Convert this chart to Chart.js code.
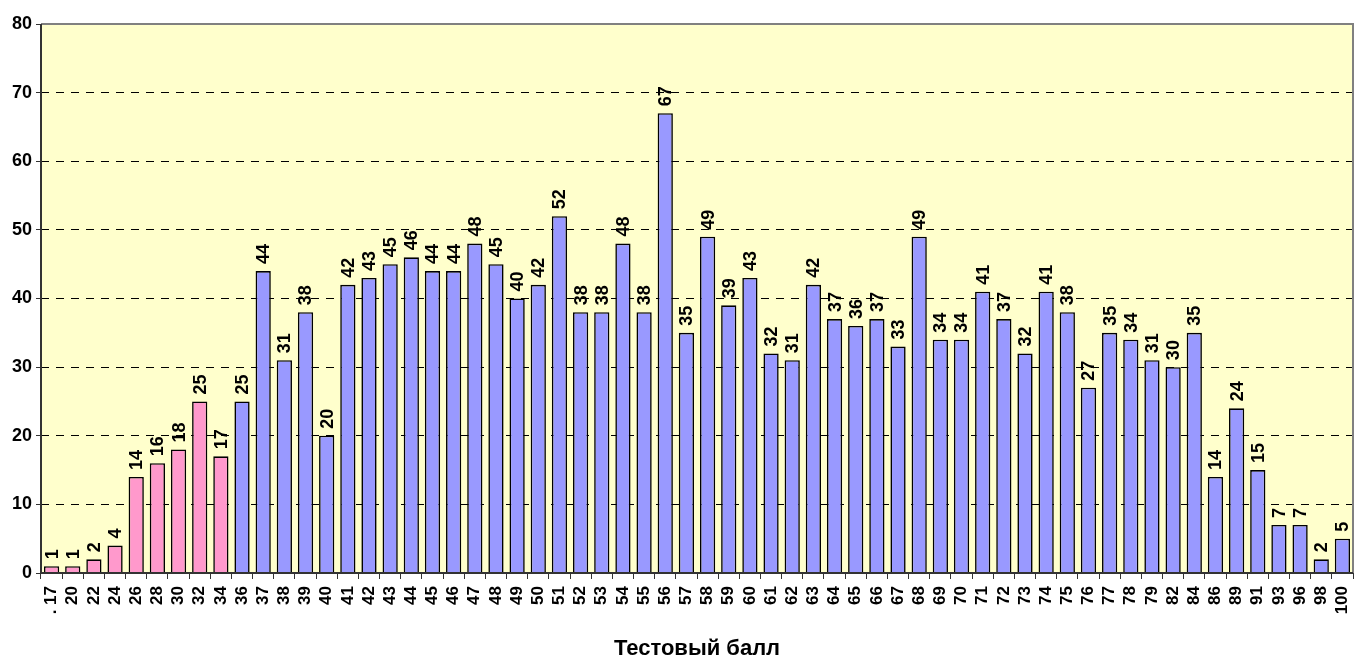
<!DOCTYPE html>
<html lang="ru">
<head>
  <meta charset="UTF-8">
  <title>Тестовый балл</title>
  <script src="https://cdn.jsdelivr.net/npm/chart.js"></script>
  <style>
    body { margin: 0; background: #fff; }
    #chart { display: block; }
  </style>
</head>
<body>
  <canvas id="chart" width="1356" height="664"></canvas>

  <script>
    // Тестовые баллы (категории)
    const scores = ['. 17', '20', '22', '24', '26', '28', '30', '32', '34', '36', '37', '38', '39', '40',
      '41', '42', '43', '44', '45', '46', '47', '48', '49', '50', '51', '52', '53', '54', '55', '56',
      '57', '58', '59', '60', '61', '62', '63', '64', '65', '66', '67', '68', '69', '70', '71', '72',
      '73', '74', '75', '76', '77', '78', '79', '82', '84', '86', '89', '91', '93', '96', '98', '100'];

    // Количество участников
    const counts = [1, 1, 2, 4, 14, 16, 18, 25, 17, 25, 44, 31, 38, 20,
      42, 43, 45, 46, 44, 44, 48, 45, 40, 42, 52, 38, 38, 48, 38, 67,
      35, 49, 39, 43, 32, 31, 42, 37, 36, 37, 33, 49, 34, 34, 41, 37,
      32, 41, 38, 27, 35, 34, 31, 30, 35, 14, 24, 15, 7, 7, 2, 5];

    // первые столбцы (ниже порога) — розовые
    const belowThreshold = 9;

    const yTicks = [0, 10, 20, 30, 40, 50, 60, 70, 80];

    const boldFont = "'Liberation Sans', Arial, sans-serif";

    // фон, рамка и подписи значений
    const plotDecor = {
      id: 'plotDecor',
      beforeDraw(chart) {
        const { ctx, chartArea: a } = chart;
        ctx.save();
        ctx.fillStyle = '#FFFFCC';
        ctx.fillRect(a.left, a.top, a.right - a.left, a.bottom - a.top);
        ctx.restore();
      },
      afterDatasetsDraw(chart) {
        const { ctx, chartArea: a } = chart;
        ctx.save();
        // рамка
        ctx.lineWidth = 2;
        ctx.strokeStyle = '#808080';
        ctx.beginPath();
        ctx.moveTo(a.left, a.top);
        ctx.lineTo(a.right, a.top);
        ctx.lineTo(a.right, a.bottom);
        ctx.stroke();
        ctx.strokeStyle = '#333';
        ctx.beginPath();
        ctx.moveTo(a.left, a.top);
        ctx.lineTo(a.left, a.bottom);
        ctx.lineTo(a.right, a.bottom);
        ctx.stroke();

        // подписи значений
        ctx.fillStyle = '#000';
        ctx.font = 'bold 18px ' + boldFont;
        ctx.textAlign = 'left';
        ctx.textBaseline = 'middle';
        const meta = chart.getDatasetMeta(0);
        meta.data.forEach((bar, i) => {
          ctx.save();
          ctx.translate(bar.x, bar.y - 7);
          ctx.rotate(-Math.PI / 2);
          ctx.fillText(String(counts[i]), 0, 1);
          ctx.restore();
        });
        ctx.restore();
      }
    };

    const ctx = document.getElementById('chart').getContext('2d');
    new Chart(ctx, {
      type: 'bar',
      data: {
        labels: scores,
        datasets: [{
          data: counts,
          backgroundColor: c => c.dataIndex < belowThreshold ? '#FF99CC' : '#9999FF',
          borderColor: '#000',
          borderWidth: 1.6,
          borderSkipped: 'bottom',
          categoryPercentage: 1,
          barPercentage: 0.72
        }]
      },
      options: {
        responsive: false,
        animation: false,
        devicePixelRatio: 1,
        layout: { padding: { top: 24, right: 3, left: 0, bottom: 0 } },
        plugins: {
          legend: { display: false },
          tooltip: { enabled: false }
        },
        scales: {
          x: {
            offset: true,
            grid: {
              offset: true,
              drawOnChartArea: false,
              drawTicks: true,
              tickLength: 6,
              tickColor: '#333'
            },
            border: { display: false },
            ticks: {
              autoSkip: false,
              minRotation: 90,
              maxRotation: 90,
              padding: 7,
              color: '#000',
              font: { family: boldFont, weight: 'bold', size: 17 }
            },
            title: {
              display: true,
              text: 'Тестовый балл',
              color: '#000',
              padding: { top: 0, bottom: 2 },
              font: { family: boldFont, weight: 'bold', size: 22 }
            },
            afterFit(scale) {
              scale.height = 91;
              scale.paddingLeft = 0;
              scale.paddingRight = 0;
            }
          },
          y: {
            min: 0,
            max: 80,
            afterBuildTicks(scale) { scale.ticks = yTicks.map(v => ({ value: v })); },
            grid: {
              color: c => (c.tick && (c.tick.value === 0 || c.tick.value === 80)) ? 'rgba(0,0,0,0)' : '#000',
              lineWidth: 1,
              tickLength: 5,
              tickColor: '#333'
            },
            border: { display: false, dash: [8, 7] },
            ticks: {
              padding: 4,
              color: '#000',
              font: { family: boldFont, weight: 'bold', size: 18 }
            },
            afterFit(scale) {
              scale.width = 41;
              scale.paddingTop = 0;
              scale.paddingBottom = 0;
            }
          }
        }
      },
      plugins: [plotDecor]
    });
  </script>
</body>
</html>
